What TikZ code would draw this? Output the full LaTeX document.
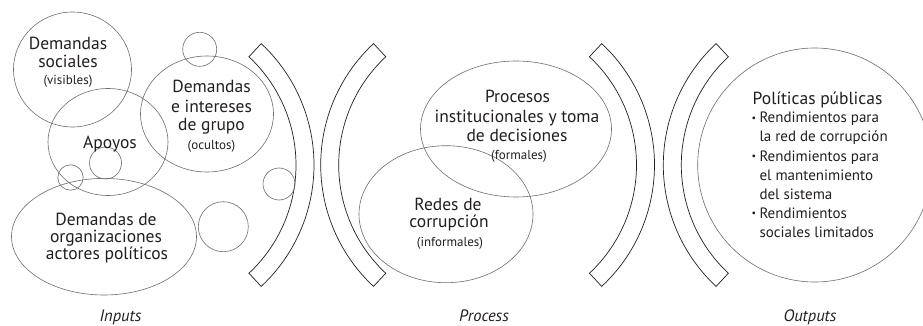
\documentclass[tikz,border=0pt]{standalone}
\usepackage{fontspec}
\setmainfont{PT Sans}
\usetikzlibrary{calc}
\definecolor{ink}{HTML}{231F20}
\definecolor{ringc}{HTML}{6D6E71}
\begin{document}
\begin{tikzpicture}[x=1pt,y=-1pt,
  brk/.style={draw=ink, line width=0.7pt, line join=miter},
  ring/.style={draw=ringc, line width=0.6pt},
  big/.style={font=\fontsize{17.5}{19}\selectfont, text=ink, inner sep=0pt, anchor=base},
  sml/.style={font=\fontsize{13}{15}\selectfont, text=ink, inner sep=0pt, anchor=base},
  item/.style={font=\fontsize{15}{17}\selectfont, text=ink, inner sep=0pt, anchor=base west},
  dot/.style={font=\fontsize{10}{12}\selectfont, text=ink, inner sep=0pt, anchor=base west},
  lab/.style={font=\itshape\fontsize{16.5}{18}\selectfont, text=ink, inner sep=0pt, anchor=base}]
\useasboundingbox (0,0) rectangle (923,326);
\clip (0,0) rectangle (923,326);
\fill[white] (0,0) rectangle (923,326);

% brackets
\coordinate (c1) at (148,165);
\coordinate (c2) at (486.7,165);
\coordinate (c3) at (488.5,165);
\coordinate (c4) at (829.3,165);
\draw[brk] ($(c1)+(47:166pt)$) arc[start angle=47,end angle=-47,radius=166pt]
  -- ($(c1)+(-47:148pt)$) arc[start angle=-47,end angle=47,radius=148pt] -- cycle;
\draw[brk] ($(c2)+(133:166pt)$) arc[start angle=133,end angle=227,radius=166pt]
  -- ($(c2)+(227:148pt)$) arc[start angle=227,end angle=133,radius=148pt] -- cycle;
\draw[brk] ($(c3)+(47:166pt)$) arc[start angle=47,end angle=-47,radius=166pt]
  -- ($(c3)+(-47:148pt)$) arc[start angle=-47,end angle=47,radius=148pt] -- cycle;
\draw[brk] ($(c4)+(133:166pt)$) arc[start angle=133,end angle=227,radius=166pt]
  -- ($(c4)+(227:148pt)$) arc[start angle=227,end angle=133,radius=148pt] -- cycle;

% input circles
\draw[ring] (72.5,69.5) ellipse[x radius=59pt, y radius=57.5pt];
\draw[ring] (108,142) ellipse[x radius=60pt, y radius=53.5pt];
\draw[ring] (207,114) ellipse[x radius=66.5pt, y radius=58pt];
\draw[ring] (199.7,49.3) circle[radius=17pt];
\draw[ring] (105.5,163) circle[radius=16pt];
\draw[ring] (70.5,177.5) circle[radius=12.7pt];
\draw[ring] (104,236.7) ellipse[x radius=92.5pt, y radius=58.3pt];
\draw[ring] (223.3,226.7) circle[radius=25pt];
\draw[ring] (279,184) circle[radius=16pt];

% process ellipses
\draw[ring] (516,129) ellipse[x radius=95.5pt, y radius=68pt];
\draw[ring] (446,214.2) ellipse[x radius=87pt, y radius=68.5pt];

% output circle
\draw[ring] (814.7,165) circle[radius=117pt];

% input texts
\node[big] (t1a) at (68,50) {Demandas};
\node[big] (t1b) at (68,68) {sociales};
\node[sml] (t1c) at (68,85) {(visibles)};
\node[big] (t2) at (110,149) {Apoyos};
\node[big] (t3a) at (211.5,93) {Demandas};
\node[big] (t3b) at (211.5,112.5) {e intereses};
\node[big] (t3c) at (211.5,131) {de grupo};
\node[sml] (t3d) at (211.5,149.5) {(ocultos)};
\node[big] (t4a) at (106,225) {Demandas de};
\node[big] (t4b) at (106,242) {organizaciones};
\node[big] (t4c) at (107,259.5) {actores políticos};

% process texts
\node[big] (p1a) at (517.5,103) {Procesos};
\node[big] (p1b) at (517,122) {institucionales y toma};
\node[big] (p1c) at (517,141) {de decisiones};
\node[sml] (p1d) at (519,159.5) {(formales)};
\node[big] (p2a) at (448,210) {Redes de};
\node[big] (p2b) at (449,227.5) {corrupción};
\node[sml] (p2c) at (450,246) {(informales)};

% output texts
\node[big, anchor=base west] (o0) at (752.5,104.5) {Políticas públicas};
\node[dot] (b1) at (751.5,121.5) {•};
\node[item] (o1) at (759.3,123) {Rendimientos para};
\node[item] (o2) at (759.3,142) {la red de corrupción};
\node[dot] (b2) at (751.5,159.5) {•};
\node[item] (o3) at (759.3,161) {Rendimientos para};
\node[item] (o4) at (759.3,180) {el mantenimiento};
\node[item] (o5) at (759.3,199) {del sistema};
\node[dot] (b3) at (751.5,216.5) {•};
\node[item] (o6) at (759.3,218) {Rendimientos};
\node[item] (o7) at (759.3,237) {sociales limitados};

% labels
\node[lab] (li) at (120.5,321) {Inputs};
\node[lab] (lp) at (484,321) {Process};
\node[lab] (lo) at (810,321) {Outputs};
\end{tikzpicture}
\end{document}
